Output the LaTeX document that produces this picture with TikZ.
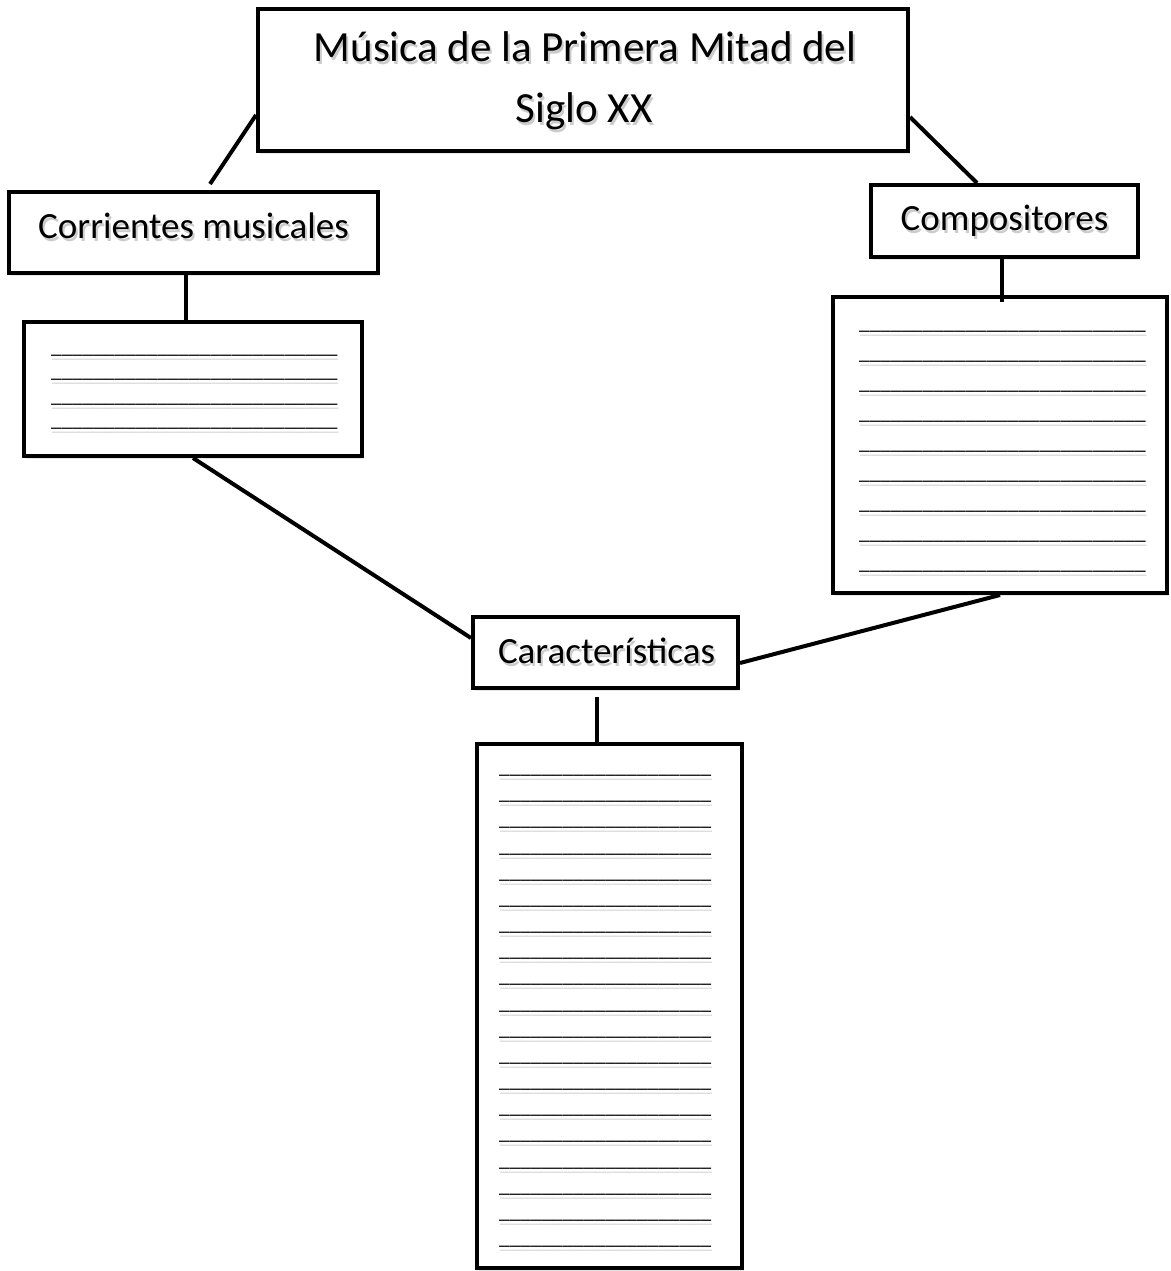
\documentclass[tikz,border=0pt]{standalone}
\usepackage{fontspec}
\setmainfont{Carlito}
\usetikzlibrary{shadows,calc}
\def\uL{\_\_\_\_\_\_\_\_\_\_\_\_\_\_\_\_\_\_\_\_\_\_\_\_\_\_\_}
\def\uB{\_\_\_\_\_\_\_\_\_\_\_\_\_\_\_\_\_\_\_\_}
\begin{document}
\begin{tikzpicture}[x=1pt,y=-1pt,
  box/.style={draw=black, line width=4pt, fill=white, inner sep=0pt,
    drop shadow={opacity=0.18, shadow xshift=2pt, shadow yshift=-3pt}},
  conn/.style={line width=4pt, line cap=butt},
  lbl/.style={inner sep=0pt, anchor=base, font=\fontsize{37}{44}\selectfont},
  lbltitle/.style={lbl, font=\fontsize{43}{61}\selectfont},
  sh/.style={opacity=0.2, xshift=2pt, yshift=-3pt},
  ln/.style={inner sep=0pt, anchor=base west, font=\fontsize{21.3}{24}\selectfont},
  lnsh/.style={ln, opacity=0.15, xshift=1pt, yshift=-4pt}]
\useasboundingbox (0,0) rectangle (1170,1271);
\fill[white] (0,0) rectangle (1170,1271);
% boxes
\node[box, minimum width=650pt, minimum height=142pt] (title) at (583,80) {};
\node[box, minimum width=369pt, minimum height=81pt] (corr) at (193.5,232.5) {};
\node[box, minimum width=267pt, minimum height=72pt] (comp) at (1004.5,221) {};
\node[box, minimum width=338pt, minimum height=134pt] (boxl) at (193,389) {};
\node[box, minimum width=334pt, minimum height=296pt] (boxr) at (1000,445) {};
\node[box, minimum width=265pt, minimum height=71pt] (car) at (605.5,652.5) {};
\node[box, minimum width=265pt, minimum height=524pt] (boxb) at (609.5,1006) {};
% labels (with soft shadow copies)
\node[lbltitle, sh] (t1s) at (585,62) {Música de la Primera Mitad del};
\node[lbltitle] (t1) at (585,62) {Música de la Primera Mitad del};
\node[lbltitle, sh] (t2s) at (584,123) {Siglo XX};
\node[lbltitle] (t2) at (584,123) {Siglo XX};
\node[lbl, sh] (corrTs) at (193.5,238) {Corrientes musicales};
\node[lbl] (corrT) at (193.5,238) {Corrientes musicales};
\node[lbl, sh] (compTs) at (1004.5,230) {Compositores};
\node[lbl] (compT) at (1004.5,230) {Compositores};
\node[lbl, sh] (carTs) at (606.5,663) {Características};
\node[lbl] (carT) at (606.5,663) {Características};
% writing lines
\foreach \k in {0,...,3}{
  \node[lnsh] (lnLs\k) at (51,{353+24.5*\k}) {\uL};
  \node[ln] (lnL\k) at (51,{353+24.5*\k}) {\uL};
}
\foreach \k in {0,...,8}{
  \node[lnsh] (lnRs\k) at (859,{329+30*\k}) {\uL};
  \node[ln] (lnR\k) at (859,{329+30*\k}) {\uL};
}
\foreach \k in {0,...,18}{
  \node[lnsh] (lnBs\k) at (499,{773.5+26.17*\k}) {\uB};
  \node[ln] (lnB\k) at (499,{773.5+26.17*\k}) {\uB};
}
% connectors
\coordinate (cT1) at (210,184);
\coordinate (cT2) at (977,183);
\coordinate (x1) at (186,0);
\coordinate (x2) at (1002,0);
\coordinate (x3) at (597,697);
\draw[conn] ($(title.south west)+(0,-38)$) -- (cT1);
\draw[conn] ($(title.south east)+(0,-36)$) -- (cT2);
\draw[conn] (corr.south -| x1) -- (boxl.north -| x1);
\draw[conn] (comp.south -| x2) -- ($(boxr.north -| x2)+(0,7)$);
\draw[conn] (boxl.south) -- ($(car.west)+(0,-14.5)$);
\draw[conn] (boxr.south) -- ($(car.east)+(0,10.5)$);
\draw[conn] (x3) -- (x3 |- boxb.north);
\end{tikzpicture}
\end{document}
